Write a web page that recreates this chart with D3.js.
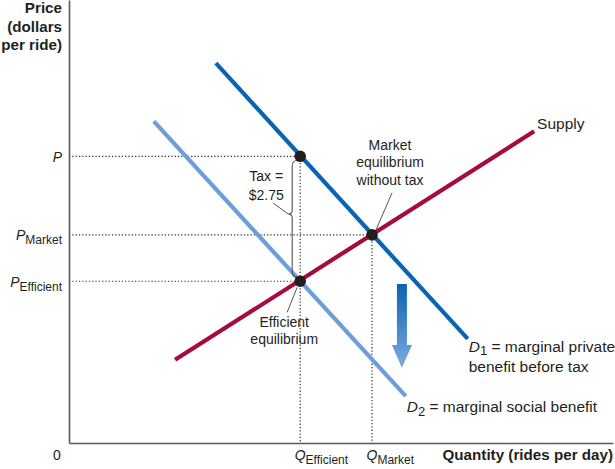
<!DOCTYPE html>
<html>
<head>
<meta charset="utf-8">
<script src="https://cdn.jsdelivr.net/npm/d3@7"></script>
<style>
  body { margin: 0; background: #fff; }
  text { font-family: "Liberation Sans", Arial, Helvetica, sans-serif; fill: #231f20; }
</style>
</head>
<body>
<div id="viz"></div>
<script>
// values (price in dollars, quantity in arbitrary units)
const priceTicks = [
  { key: "P", sub: "", value: 6.31 },
  { key: "P", sub: "Market", value: 4.58 },
  { key: "P", sub: "Efficient", value: 3.56 }
];
const quantityTicks = [
  { key: "Q", sub: "Efficient", value: 4.25 },
  { key: "Q", sub: "Market", value: 5.57 }
];
const supplyCurve = [[1.95, 1.83], [8.55, 6.86]];
const privateDemand = [[2.70, 8.36], [7.33, 2.29]];
const socialDemand = [[1.56, 7.08], [6.19, 1.03]];
const points = [
  { name: "taxTop", q: 4.25, p: 6.31 },
  { name: "market", q: 5.57, p: 4.58 },
  { name: "efficient", q: 4.25, p: 3.56 }
];
const taxLabel = ["Tax =", "$2.75"];
const demandShift = { q: 6.12, from: 3.50, to: 1.65 };

const width = 615;
const height = 469;

const x = d3.scaleLinear().domain([0, 10]).range([69, 613]);
const y = d3.scaleLinear().domain([0, 9.75]).range([443, 0]);

const svg = d3.select("#viz")
  .append("svg")
    .attr("width", width)
    .attr("height", height);

const defs = svg.append("defs");
const grad = defs.append("linearGradient")
  .attr("id", "shiftGrad")
  .attr("x1", 0).attr("y1", 0).attr("x2", 0).attr("y2", 1);
grad.append("stop").attr("offset", "0%").attr("stop-color", "#0a63ae");
grad.append("stop").attr("offset", "100%").attr("stop-color", "#7eaadf");

const byName = n => points.find(d => d.name === n);

// dotted guide lines
const guides = [
  { q0: 0, p0: 6.31, q1: 4.25, p1: 6.31 },
  { q0: 0, p0: 4.58, q1: 5.57, p1: 4.58 },
  { q0: 0, p0: 3.56, q1: 4.25, p1: 3.56 },
  { q0: 4.25, p0: 6.31, q1: 4.25, p1: 0 },
  { q0: 5.57, p0: 4.58, q1: 5.57, p1: 0 }
];
svg.append("g").selectAll("line")
  .data(guides)
  .join("line")
    .attr("x1", d => x(d.q0)).attr("y1", d => y(d.p0))
    .attr("x2", d => x(d.q1)).attr("y2", d => y(d.p1))
    .style("stroke", "#333")
    .style("stroke-width", 1.2)
    .style("stroke-dasharray", "1.3,2");

// axes
const yAxis = svg.append("g")
  .attr("transform", `translate(${x(0)},0)`)
  .call(d3.axisLeft(y).tickValues(priceTicks.map(d => d.value)).tickSize(0).tickSizeOuter(0).tickFormat(""));
const xAxis = svg.append("g")
  .attr("transform", `translate(0,${y(0)})`)
  .call(d3.axisBottom(x).tickValues(quantityTicks.map(d => d.value)).tickSize(0).tickSizeOuter(0).tickFormat(""));
svg.selectAll(".domain").style("stroke", "#58595b").style("stroke-width", 1.6);
svg.selectAll(".tick text").remove();

yAxis.selectAll(".tick").each(function(_, i) {
  const d = priceTicks[i];
  const t = d3.select(this).append("text")
    .attr("x", -7).attr("dy", 5)
    .attr("text-anchor", "end")
    .style("font-size", "14px");
  t.append("tspan").style("font-style", "italic").text(d.key);
  if (d.sub) t.append("tspan").attr("dy", 4).style("font-size", "12px").text(d.sub);
});

xAxis.selectAll(".tick").each(function(_, i) {
  const d = quantityTicks[i];
  const t = d3.select(this).append("text")
    .attr("x", -6).attr("y", 17)
    .attr("text-anchor", "start")
    .style("font-size", "14px");
  t.append("tspan").style("font-style", "italic").text(d.key);
  t.append("tspan").attr("dy", 4).style("font-size", "12px").text(d.sub);
});

svg.append("text")
  .attr("x", x(0) - 12).attr("y", y(0) + 17)
  .attr("text-anchor", "middle")
  .style("font-size", "14px")
  .text("0");

svg.append("text")
  .attr("x", width - 2).attr("y", y(0) + 17)
  .attr("text-anchor", "end")
  .style("font-size", "15.2px").style("font-weight", "bold")
  .text("Quantity (rides per day)");

svg.append("text")
  .attr("text-anchor", "end")
  .style("font-size", "15.2px").style("font-weight", "bold")
  .selectAll("tspan")
  .data(["Price", "(dollars", "per ride)"])
  .join("tspan")
    .attr("x", x(0) - 7)
    .attr("y", (d, i) => 13 + i * 18.5)
    .text(d => d);

// curves
const line = d3.line().x(d => x(d[0])).y(d => y(d[1]));
const curves = [
  { data: socialDemand, color: "#6c9fd8" },
  { data: privateDemand, color: "#0a64b1" },
  { data: supplyCurve, color: "#a50b3d" }
];
svg.append("g").selectAll("path")
  .data(curves)
  .join("path")
    .attr("d", d => line(d.data))
    .style("fill", "none")
    .style("stroke", d => d.color)
    .style("stroke-width", 4.2);

// shift arrow
const ax = x(demandShift.q), aTop = y(demandShift.from), aTip = y(demandShift.to);
const headLen = 23, shaft = 5, head = 10;
svg.append("path")
  .attr("d", `M${ax - shaft},${aTop} H${ax + shaft} V${aTip - headLen} H${ax + head} L${ax},${aTip} L${ax - head},${aTip - headLen} H${ax - shaft} Z`)
  .style("fill", "url(#shiftGrad)");

// tax brace
const bx = x(4.25) - 8;
const bTop = y(6.31) + 4, bBot = y(3.56) - 4;
const bMid = bTop + (bBot - bTop) * 0.46;
svg.append("path")
  .attr("d", `M${bx + 6},${bTop} Q${bx},${bTop} ${bx},${bTop + 6} V${bMid - 4} Q${bx},${bMid} ${bx - 4},${bMid} Q${bx},${bMid} ${bx},${bMid + 4} V${bBot - 6} Q${bx},${bBot} ${bx + 6},${bBot}`)
  .style("fill", "none").style("stroke", "#555").style("stroke-width", 1.1);
svg.append("line")
  .attr("x1", bx - 4).attr("y1", bMid)
  .attr("x2", bx - 19).attr("y2", bMid - 11)
  .style("stroke", "#555").style("stroke-width", 1);
svg.append("text")
  .attr("text-anchor", "middle")
  .style("font-size", "14px")
  .selectAll("tspan")
  .data(taxLabel)
  .join("tspan")
    .attr("x", bx - 26)
    .attr("y", (d, i) => bMid - 33 + i * 19)
    .text(d => d);

// leaders + annotations
const mk = byName("market"), ef = byName("efficient");
svg.append("line")
  .attr("x1", x(mk.q) + 4).attr("y1", y(mk.p) - 5)
  .attr("x2", x(mk.q) + 20).attr("y2", y(mk.p) - 42)
  .style("stroke", "#555").style("stroke-width", 1);
svg.append("text")
  .attr("text-anchor", "middle")
  .style("font-size", "14px")
  .selectAll("tspan")
  .data(["Market", "equilibrium", "without tax"])
  .join("tspan")
    .attr("x", x(mk.q) + 18)
    .attr("y", (d, i) => y(mk.p) - 85 + i * 17.5)
    .text(d => d);

svg.append("line")
  .attr("x1", x(ef.q) - 3).attr("y1", y(ef.p) + 6)
  .attr("x2", x(ef.q) - 13).attr("y2", y(ef.p) + 31)
  .style("stroke", "#555").style("stroke-width", 1);
svg.append("text")
  .attr("text-anchor", "middle")
  .style("font-size", "14px")
  .selectAll("tspan")
  .data(["Efficient", "equilibrium"])
  .join("tspan")
    .attr("x", x(ef.q) - 16)
    .attr("y", (d, i) => y(ef.p) + 46 + i * 17)
    .text(d => d);

// equilibrium dots
svg.append("g").selectAll("circle")
  .data(points)
  .join("circle")
    .attr("cx", d => x(d.q))
    .attr("cy", d => y(d.p))
    .attr("r", 5.8)
    .style("fill", "#231f20");

// curve labels
const supEnd = supplyCurve[1];
svg.append("text")
  .attr("x", x(supEnd[0]) + 3).attr("y", y(supEnd[1]) - 2)
  .style("font-size", "15.5px")
  .text("Supply");

const d1End = privateDemand[1];
const d1x = x(d1End[0]) + 1;
svg.append("text")
  .attr("x", d1x).attr("y", y(d1End[1]) + 13)
  .style("font-size", "15.5px")
  .call(t => {
    t.append("tspan").style("font-style", "italic").text("D");
    t.append("tspan").attr("dy", 3).style("font-size", "13px").text("1");
    t.append("tspan").attr("dy", -3).text(" = marginal private");
  });
svg.append("text")
  .attr("x", d1x).attr("y", y(d1End[1]) + 33)
  .style("font-size", "15.5px")
  .text("benefit before tax");

const d2End = socialDemand[1];
svg.append("text")
  .attr("x", x(d2End[0]) + 1).attr("y", y(d2End[1]) + 16)
  .style("font-size", "15.5px")
  .call(t => {
    t.append("tspan").style("font-style", "italic").text("D");
    t.append("tspan").attr("dy", 4).style("font-size", "13px").text("2");
    t.append("tspan").attr("dy", -4).text(" = marginal social benefit");
  });
</script>
</body>
</html>
